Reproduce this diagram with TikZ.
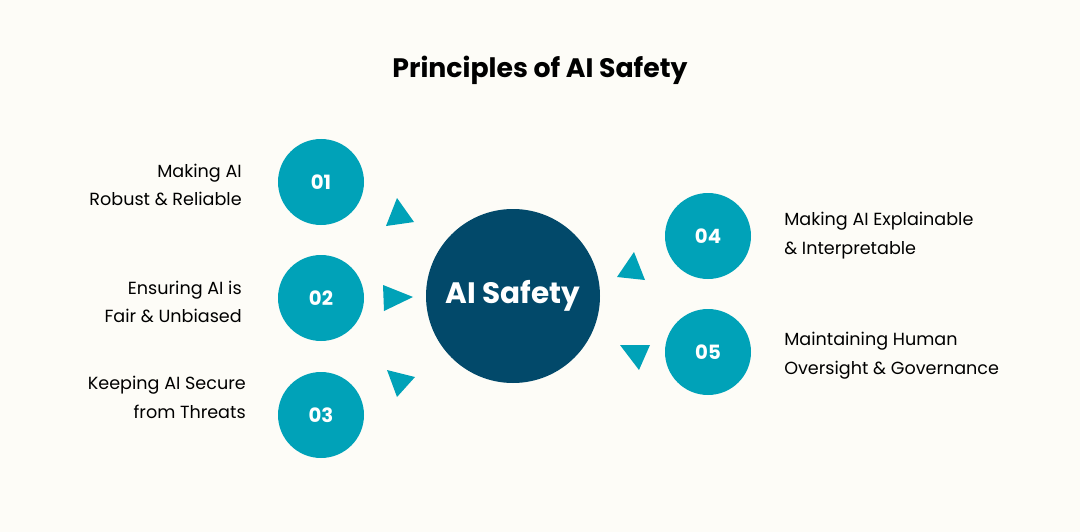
\documentclass[tikz,border=0pt]{standalone}
\usepackage{fontspec}
\setmainfont{Poppins}
\usetikzlibrary{positioning}
\definecolor{bgcream}{HTML}{FDFCF7}
\definecolor{tealdot}{HTML}{00A2B8}
\definecolor{navyhub}{HTML}{02496A}
\tikzset{
  num/.style={circle, fill=tealdot, minimum size=86*0.025cm, inner sep=0pt, text=white, font=\fontsize{14}{16}\selectfont\bfseries},
  lbl/.style={font=\fontsize{12.5}{20.5}\selectfont, text=black, inner sep=0pt},
  pointer/.style={fill=tealdot}
}
\begin{document}
\begin{tikzpicture}[x=0.025cm, y=-0.025cm]
  % background
  \fill[bgcream] (0,0) rectangle (1080,532);
  \useasboundingbox (0,0) rectangle (1080,532);

  % title
  \node[font=\fontsize{19}{22}\selectfont\bfseries] (title) at (540,70) {Principles of AI Safety};

  % hub
  \node[circle, fill=navyhub, minimum size=174*0.025cm, text=white, font=\fontsize{21}{24}\selectfont\bfseries] (hub) at (513,296) {AI Safety};

  % numbered circles
  \node[num] (p1) at (321,182) {01};
  \node[num] (p2) at (321,298) {02};
  \node[num] (p3) at (321,415) {03};
  \node[num] (p4) at (708,236) {04};
  \node[num] (p5) at (708,352) {05};

  % labels
  \node[lbl, align=right, anchor=east] (l1) at (242,185) {Making AI\\Robust \& Reliable};
  \node[lbl, align=right, anchor=east] (l2) at (242,302) {Ensuring AI is\\Fair \& Unbiased};
  \node[lbl, align=right, anchor=east] (l3) at (246,397) {Keeping AI Secure\\from Threats};
  \node[lbl, align=left, anchor=west] (l4) at (784,236) {Making AI Explainable\\\& Interpretable};
  \node[lbl, align=left, anchor=west] (l5) at (784,356) {Maintaining Human\\Oversight \& Governance};

  % pointers
  \fill[pointer] (386,226) -- (397,198) -- (414,222) -- cycle;
  \fill[pointer] (383,285) -- (413,297) -- (384,311) -- cycle;
  \fill[pointer] (387,370) -- (415,377) -- (397,397) -- cycle;
  \fill[pointer] (634,252) -- (617,277) -- (645,280) -- cycle;
  \fill[pointer] (620,345) -- (650,345) -- (639,370) -- cycle;
\end{tikzpicture}
\end{document}
